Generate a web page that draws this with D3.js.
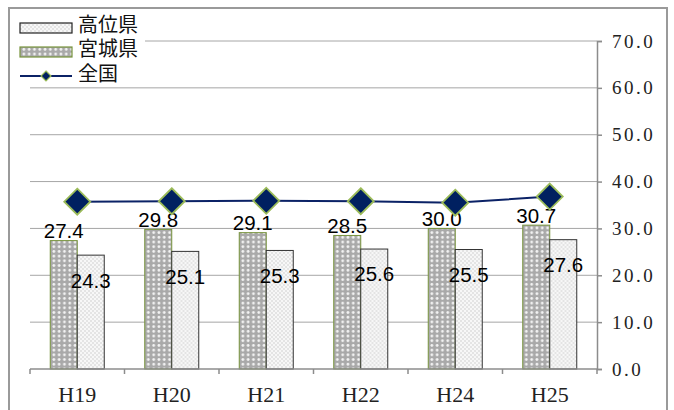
<!DOCTYPE html>
<html><head><meta charset="utf-8">
<script src="https://cdn.jsdelivr.net/npm/d3@7"></script>
<style>
html,body{margin:0;padding:0;background:#fff;}
svg{display:block;}
</style>
</head><body>
<svg id="chart" width="674" height="410"></svg>
<script>
const categories = ["H19","H20","H21","H22","H24","H25"];
const seriesNames = ["高位県","宮城県","全国"];
const kochi = [24.3,25.1,25.3,25.6,25.5,27.6];
const miyagi = [27.4,29.8,29.1,28.5,30.0,30.7];
const national = [35.7,35.8,35.9,35.8,35.5,36.8];
const yTicks = [0,10,20,30,40,50,60,70];

const svg = d3.select("#chart");
const defs = svg.append("defs");

// patterns
const pm = defs.append("pattern").attr("id","pMiyagi").attr("patternUnits","userSpaceOnUse")
  .attr("width",5.3).attr("height",4.7);
pm.append("rect").attr("width",5.3).attr("height",4.7).attr("fill","#a9a9a9");
pm.append("circle").attr("cx",2.65).attr("cy",2.35).attr("r",1.4).attr("fill","#f4f4f4");

const pk = defs.append("pattern").attr("id","pKochi").attr("patternUnits","userSpaceOnUse")
  .attr("width",4).attr("height",4);
pk.append("rect").attr("width",4).attr("height",4).attr("fill","#f7f7f7");
pk.append("rect").attr("width",2).attr("height",2).attr("fill","#e4e4e4");
pk.append("rect").attr("x",2).attr("y",2).attr("width",2).attr("height",2).attr("fill","#e4e4e4");

// chart background & outer border
svg.append("rect").attr("x",9).attr("y",8).attr("width",658).attr("height",420)
  .attr("fill","#fff").attr("stroke","#9a9a9a").attr("stroke-width",2);

const x0 = d3.scaleBand().domain(categories).range([30,597]).padding(0);
const x1 = d3.scaleBand().domain(["miyagi","kochi"]).range([0,x0.bandwidth()])
  .paddingInner(0).paddingOuter(0.75);
const y = d3.scaleLinear().domain([0,70]).range([369,41]);

// gridlines
svg.append("g").selectAll("line").data(yTicks.filter(d=>d>0)).join("line")
  .attr("x1",30).attr("x2",597)
  .attr("y1",d=>y(d)).attr("y2",d=>y(d))
  .attr("stroke","#a6a6a6").attr("stroke-width",1);

// bars
const groups = svg.append("g").selectAll("g").data(categories).join("g")
  .attr("transform",d=>`translate(${x0(d)},0)`);
groups.append("rect")
  .attr("x",x1("miyagi")).attr("width",x1.bandwidth())
  .attr("y",(d,i)=>y(miyagi[i])).attr("height",(d,i)=>y(0)-y(miyagi[i]))
  .attr("fill","url(#pMiyagi)").attr("stroke","#77933c").attr("stroke-width",1);
groups.append("rect")
  .attr("x",x1("kochi")).attr("width",x1.bandwidth())
  .attr("y",(d,i)=>y(kochi[i])).attr("height",(d,i)=>y(0)-y(kochi[i]))
  .attr("fill","url(#pKochi)").attr("stroke","#333").attr("stroke-width",1);

// x axis line and boundary ticks
svg.append("line").attr("x1",30).attr("x2",597).attr("y1",y(0)).attr("y2",y(0))
  .attr("stroke","#8c8c8c").attr("stroke-width",1.5);
svg.append("g").selectAll("line").data(categories.map(c=>x0(c)).concat([x0.range()[1]])).join("line")
  .attr("x1",d=>d).attr("x2",d=>d).attr("y1",y(0)).attr("y2",y(0)+5)
  .attr("stroke","#8c8c8c").attr("stroke-width",1.5);

// x labels
const xAxis = svg.append("g").attr("transform",`translate(0,${y(0)})`)
  .call(d3.axisBottom(x0).tickSize(0).tickPadding(0));
xAxis.select(".domain").remove();
xAxis.selectAll("text").attr("y",33).attr("dy",null)
  .attr("font-family","'Liberation Serif','DejaVu Serif',serif").attr("font-size",22).attr("fill","#222");

// y axis (right)
const yAxis = svg.append("g").attr("transform","translate(597,0)")
  .call(d3.axisRight(y).tickValues(yTicks).tickFormat(d3.format(".1f")).tickSize(5).tickPadding(10));
yAxis.select(".domain").attr("stroke","#8c8c8c").attr("stroke-width",1.5);
yAxis.selectAll(".tick line").attr("stroke","#8c8c8c").attr("stroke-width",1.5);
yAxis.selectAll("text").attr("font-family","'Liberation Serif','DejaVu Serif',serif")
  .attr("font-size",19).attr("letter-spacing","2.5px").attr("fill","#222");

// line series
const cx = c => x0(c)+x0.bandwidth()/2;
svg.append("path").datum(national)
  .attr("d",d3.line().x((d,i)=>cx(categories[i])).y(d=>y(d)))
  .attr("fill","none").attr("stroke","#0b2266").attr("stroke-width",2);
const diamond = r => `M0,${-r}L${r},0L0,${r}L${-r},0Z`;
svg.append("g").selectAll("path").data(national).join("path")
  .attr("transform",(d,i)=>`translate(${cx(categories[i])},${y(d)})`)
  .attr("d",diamond(13))
  .attr("fill","#002060").attr("stroke","#9bbb59").attr("stroke-width",1.8);

// data labels
const labelFont = "'Liberation Sans',Arial,sans-serif";
groups.append("text")
  .attr("x",x1("miyagi")+x1.bandwidth()/2)
  .attr("y",(d,i)=>y(miyagi[i])-10).attr("dy","0.36em")
  .attr("text-anchor","middle").attr("font-family",labelFont).attr("font-size",20.5).attr("fill","#000")
  .text((d,i)=>miyagi[i].toFixed(1));
groups.append("text")
  .attr("x",x1("kochi")+x1.bandwidth()/2)
  .attr("y",(d,i)=>y(kochi[i])+25).attr("dy","0.36em")
  .attr("text-anchor","middle").attr("font-family",labelFont).attr("font-size",20.5).attr("fill","#000")
  .text((d,i)=>kochi[i].toFixed(1));

// legend
const lg = svg.append("g");
lg.append("rect").attr("x",10).attr("y",9).attr("width",135).attr("height",78).attr("fill","#fff");
const legendFont = "'Noto Sans CJK JP','Noto Sans CJK SC',sans-serif";
const rowY = [28,52,76];
const textY = [25,49,74];
lg.append("rect").attr("x",20).attr("y",rowY[0]-5).attr("width",52).attr("height",10)
  .attr("fill","url(#pKochi)").attr("stroke","#222").attr("stroke-width",1.2);
lg.append("rect").attr("x",20).attr("y",rowY[1]-5).attr("width",52).attr("height",10)
  .attr("fill","url(#pMiyagi)").attr("stroke","#77933c").attr("stroke-width",1.2);
lg.append("line").attr("x1",20).attr("x2",72).attr("y1",rowY[2]).attr("y2",rowY[2])
  .attr("stroke","#0b2266").attr("stroke-width",2);
lg.append("path").attr("transform",`translate(46,${rowY[2]})`).attr("d",diamond(5))
  .attr("fill","#002060").attr("stroke","#9bbb59").attr("stroke-width",1.2);
lg.selectAll("text").data(seriesNames).join("text")
  .attr("x",78).attr("y",(d,i)=>textY[i]).attr("dy","0.36em")
  .attr("font-family",legendFont).attr("font-size",20).attr("fill","#111")
  .text(d=>d);
</script>
</body></html>
